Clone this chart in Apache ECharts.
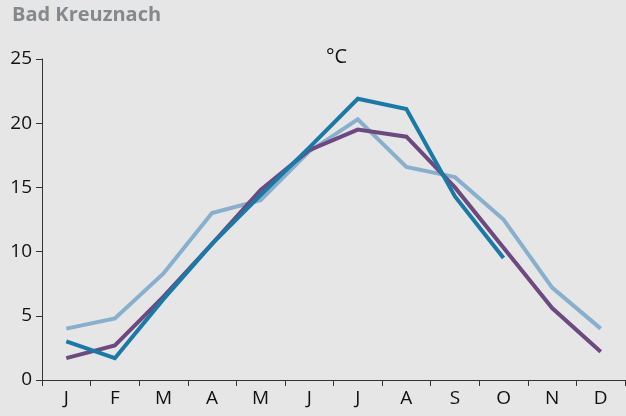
<!DOCTYPE html>
<html>
<head>
<meta charset="utf-8">
<script src="https://cdn.jsdelivr.net/npm/echarts@6/dist/echarts.min.js"></script>
<style>
html, body { margin: 0; padding: 0; background: #e6e6e6; }
#chart { width: 626px; height: 416px; }
</style>
</head>
<body>
<div id="chart"></div>
<script>
// Monatsmitteltemperatur Bad Kreuznach
var months = ['J', 'F', 'M', 'A', 'M', 'J', 'J', 'A', 'S', 'O', 'N', 'D'];
var yTicks = [0, 5, 10, 15, 20, 25];
var serieA = [3.0, 1.7, 6.3, 10.6, 14.4, 18.1, 21.9, 21.1, 14.3, 9.5, null, null];
var serieB = [1.7, 2.7, 6.5, 10.6, 14.8, 17.9, 19.5, 18.95, 15.0, 10.3, 5.6, 2.2];
var serieC = [4.0, 4.8, 8.3, 13.0, 14.0, 17.8, 20.3, 16.6, 15.8, 12.5, 7.2, 4.0];

var myChart = echarts.init(document.getElementById('chart'));

function linie(name, data, color) {
	return {
		name: name,
		type: 'line',
		data: data,
		symbol: 'none',
		smooth: false,
		lineStyle: {
			color: color,
			width: 4,
			join: 'miter'
		}
	};
}

var option = {
	backgroundColor: '#e6e6e6',
	animation: false,
	textStyle: {
		fontFamily: 'Open Sans'
	},
	title: [{
			text: 'Bad Kreuznach',
			left: 7,
			top: 0,
			textStyle: {
				color: '#86898b',
				fontSize: 20,
				fontWeight: 'bold',
				fontFamily: 'Open Sans'
			}
		},
		{
			text: '°C',
			left: 321,
			top: 42,
			textStyle: {
				color: '#111',
				fontSize: 20,
				fontWeight: 'normal',
				fontFamily: 'Open Sans'
			}
		}
	],
	grid: {
		left: 42,
		right: 1,
		top: 59,
		bottom: 36
	},
	xAxis: {
		type: 'category',
		data: months,
		boundaryGap: true,
		axisLine: {
			lineStyle: {
				color: '#333',
				width: 1
			}
		},
		axisTick: {
			show: true,
			length: 6,
			inside: false,
			lineStyle: {
				color: '#333'
			}
		},
		axisLabel: {
			color: '#111',
			fontSize: 19,
			margin: 9
		}
	},
	yAxis: {
		type: 'value',
		min: yTicks[0],
		max: yTicks[yTicks.length - 1],
		interval: 5,
		axisLine: {
			show: true,
			lineStyle: {
				color: '#333',
				width: 1
			}
		},
		axisTick: {
			show: true,
			length: 6,
			lineStyle: {
				color: '#333'
			}
		},
		splitLine: {
			show: false
		},
		axisLabel: {
			color: '#111',
			fontSize: 19,
			margin: 10
		}
	},
	series: [
		linie('C', serieC, '#88b0cc'),
		linie('B', serieB, '#6c4a80'),
		linie('A', serieA, '#1a7aa5')
	]
};

myChart.setOption(option);
</script>
</body>
</html>
